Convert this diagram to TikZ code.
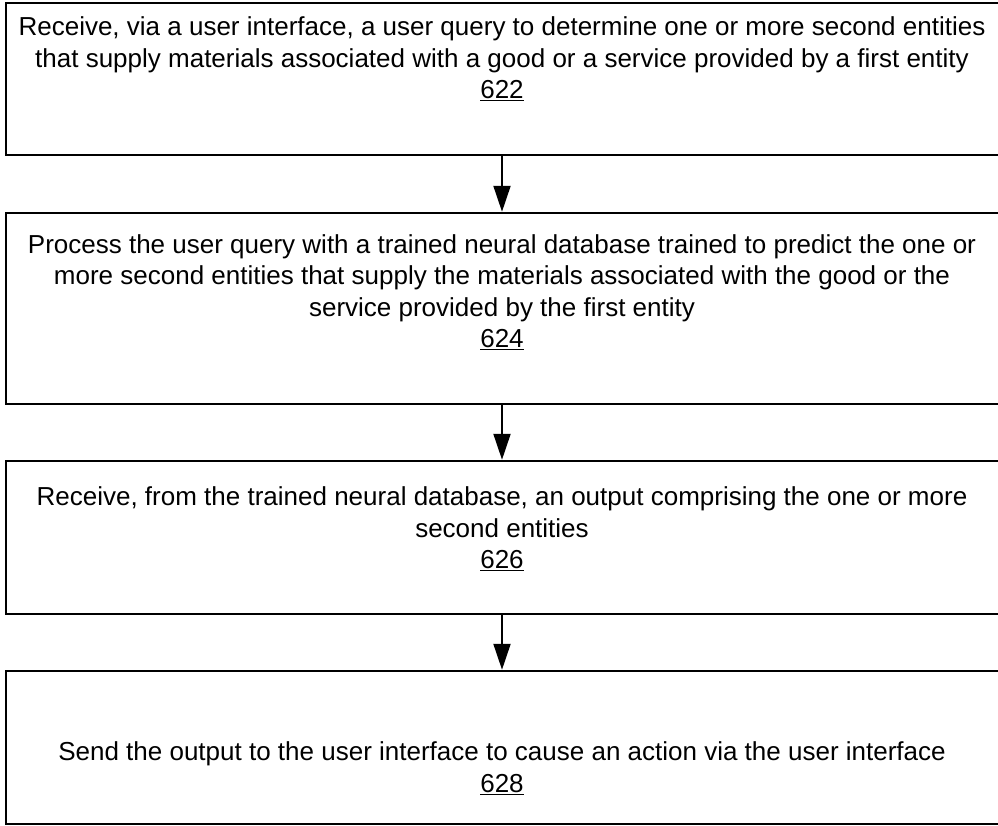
\documentclass[tikz,border=0pt]{standalone}
\usepackage{fontspec}
\setmainfont{Liberation Sans}
\usetikzlibrary{arrows.meta}

\tikzset{
  stepbox/.style={draw=black, line width=1.5pt, fill=white, minimum width=993pt, inner sep=0pt},
  steptext/.style={align=center, inner sep=0pt, font=\fontsize{26}{31.5}\selectfont},
  flow/.style={draw=black, line width=2pt, -{Triangle[width=17pt,length=26pt]}, shorten >=0.5pt},
}

\begin{document}
\begin{tikzpicture}[x=1pt, y=-1pt]
  \useasboundingbox (0,0) rectangle (998,825);

  % step boxes
  \node[stepbox, minimum height=152pt] (b1) at (502.5,79) {};
  \node[stepbox, minimum height=191pt] (b2) at (502.5,308.5) {};
  \node[stepbox, minimum height=153pt] (b3) at (502.5,537.5) {};
  \node[stepbox, minimum height=153pt] (b4) at (502.5,747.5) {};

  % step descriptions
  \node[steptext] (t1) at (502,59) {Receive, via a user interface, a user query to determine one or more second entities\\
    that supply materials associated with a good or a service provided by a first entity\\
    \underline{622}};
  \node[steptext] (t2) at (502,292) {Process the user query with a trained neural database trained to predict the one or\\
    more second entities that supply the materials associated with the good or the\\
    service provided by the first entity\\
    \underline{624}};
  \node[steptext] (t3) at (502,529) {Receive, from the trained neural database, an output comprising the one or more\\
    second entities\\
    \underline{626}};
  \node[steptext] (t4) at (502,768) {Send the output to the user interface to cause an action via the user interface\\
    \underline{628}};

  % flow arrows
  \draw[flow] (b1.south -| 502,0) -- (b2.north -| 502,0);
  \draw[flow] (b2.south -| 502,0) -- (b3.north -| 502,0);
  \draw[flow] (b3.south -| 502,0) -- (b4.north -| 502,0);
\end{tikzpicture}
\end{document}
